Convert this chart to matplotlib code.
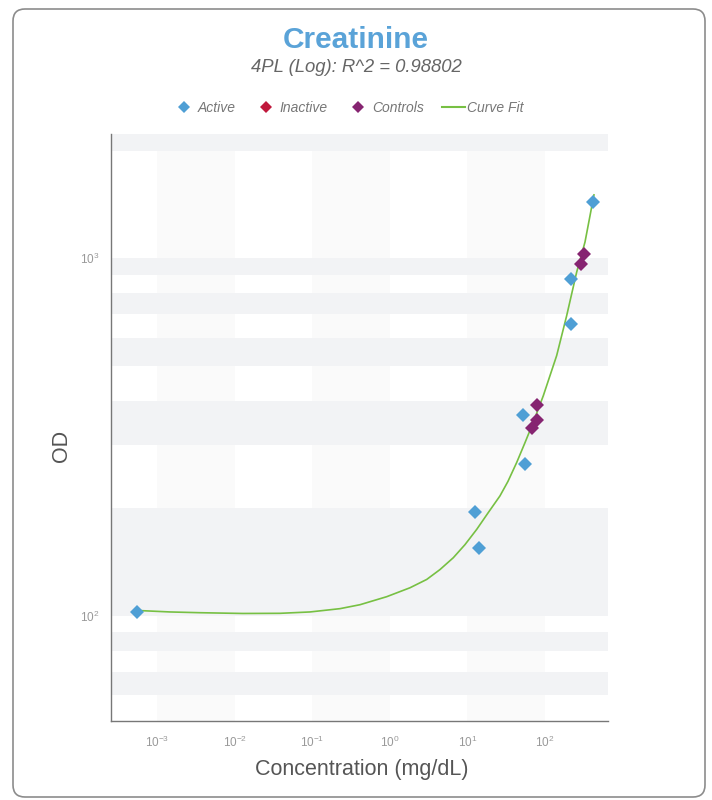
import numpy as np
import matplotlib
matplotlib.use("Agg")
import matplotlib.pyplot as plt
from matplotlib.patches import FancyBboxPatch
from matplotlib.lines import Line2D

plt.rcParams['font.family'] = ['Liberation Sans', 'DejaVu Sans']
plt.rcParams['mathtext.fontset'] = 'custom'
plt.rcParams['mathtext.rm'] = 'Liberation Sans'
plt.rcParams['mathtext.it'] = 'Liberation Sans:italic'

# values
active_conc = [5.5e-4, 12.5, 14.1, 52, 56, 214, 214, 412]
active_od = [102.9, 195, 155, 365, 267, 656, 875, 1436]

inactive_conc = []
inactive_od = []

controls_conc = [318, 288, 79.6, 79.6, 67.4]
controls_od = [1029, 965, 388, 354, 335.5]

fit_conc = [5.5e-4, 1.47e-3, 3.58e-3, 0.0128, 0.0385, 0.0937, 0.228, 0.413,
            0.912, 1.82, 2.99, 4.43, 6.58, 9.31, 13.2, 18.4, 26.3, 33.3,
            43.2, 55.2, 70.6, 95.1, 141.5, 190.5, 256, 328, 428]
fit_od = [103.7, 102.7, 102.2, 101.7, 101.8, 102.7, 104.9, 107.6, 113.3,
          120.0, 126.6, 134.9, 145.6, 158.4, 174.8, 194.1, 216.8, 237.9,
          268.8, 305.2, 348, 413, 535, 692, 915, 1111, 1505]

title = "Creatinine"
subtitle = "4PL (Log): R^2 = 0.98802"
x_ticks = [1e-3, 1e-2, 1e-1, 1e0, 1e1, 1e2]
x_ticklabels = [r"$10^{-3}$", r"$10^{-2}$", r"$10^{-1}$", r"$10^{0}$", r"$10^{1}$", r"$10^{2}$"]
y_ticks = [1e2, 1e3]
y_ticklabels = [r"$10^{2}$", r"$10^{3}$"]

blue = '#4f9fd5'
red = '#c0183c'
purple = '#862471'
green = '#77c043'

W, H = 712, 800
fig = plt.figure(figsize=(W / 100, H / 100), dpi=100)

# rounded card border
card = FancyBboxPatch((13 / 100, 3 / 100), (705 - 13) / 100, (794 - 6) / 100,
                      boxstyle="round,pad=0,rounding_size=0.12",
                      transform=fig.dpi_scale_trans, facecolor='none',
                      edgecolor='#8c8c8c', linewidth=1.2, zorder=-10)
fig.patches.append(card)

ax = fig.add_axes([111 / W, 1 - 721 / H, (608 - 111) / W, (721 - 134) / H])
ax.set_xscale('log')
ax.set_yscale('log')
ax.set_xlim(2.55e-4, 649)
ax.set_ylim(50.9, 2227)

# alternating decade stripes on x
for k, d in enumerate(range(-4, 3)):
    if k % 2 == 1:
        ax.axvspan(10.0 ** d, 10.0 ** (d + 1), color='#fafafa', lw=0, zorder=0)

# alternating minor-tick bands on y
ybounds = [m * 10 ** e for e in (1, 2, 3) for m in range(1, 10)]
ybounds = [b for b in ybounds if b >= 50] + [4000]
for i in range(len(ybounds) - 1):
    if i % 2 == 1:
        ax.axhspan(ybounds[i], ybounds[i + 1], color='#f2f3f5', lw=0, zorder=0.5)

ax.plot(fit_conc, fit_od, color=green, lw=1.2, zorder=2, label='Curve Fit')
ax.plot(active_conc, active_od, 'D', color=blue, ms=6.8, mew=0, zorder=3, label='Active')
ax.plot(inactive_conc, inactive_od, 'D', color=red, ms=6.8, mew=0, zorder=3, label='Inactive')
ax.plot(controls_conc, controls_od, 'D', color=purple, ms=6.8, mew=0, zorder=3, label='Controls')

ax.set_xticks(x_ticks)
ax.set_xticklabels(x_ticklabels)
ax.set_yticks(y_ticks)
ax.set_yticklabels(y_ticklabels)
ax.minorticks_off()
ax.tick_params(length=0, labelsize=8.5, labelcolor='#999999')
ax.tick_params(axis='x', pad=10)
ax.tick_params(axis='y', pad=8)

for s in ['top', 'right']:
    ax.spines[s].set_visible(False)
for s in ['left', 'bottom']:
    ax.spines[s].set_color('#777777')
    ax.spines[s].set_linewidth(1.0)

fig.text(0.5, 1 - 40 / H, title, ha='center', va='center', fontsize=21.5,
         fontweight='bold', color='#5aa3d8')
fig.text(0.5, 1 - 68 / H, subtitle, ha='center', va='center', fontsize=13.3,
         style='italic', color='#666666')
fig.text(362 / W, 1 - 770 / H, "Concentration (mg/dL)", ha='center', va='center',
         fontsize=15.5, color='#555555')
fig.text(62 / W, 1 - 446 / H, "OD", ha='center', va='center', rotation=90,
         fontsize=15.5, color='#555555')

handles = [
    Line2D([], [], marker='D', ls='none', color=blue, ms=6.5, mew=0),
    Line2D([], [], marker='D', ls='none', color=red, ms=6.5, mew=0),
    Line2D([], [], marker='D', ls='none', color=purple, ms=6.5, mew=0),
    Line2D([], [], color=green, lw=1.5),
]
labels = ['Active', 'Inactive', 'Controls', 'Curve Fit']
fig.legend(handles, labels, loc='center', bbox_to_anchor=(348.5 / W, 1 - 108 / H),
           ncol=4, frameon=False, prop={'style': 'italic', 'size': 10},
           labelcolor='#777777', handlelength=1.6, handletextpad=0.2,
           columnspacing=1.35)

fig.savefig('out.png', dpi=100)
